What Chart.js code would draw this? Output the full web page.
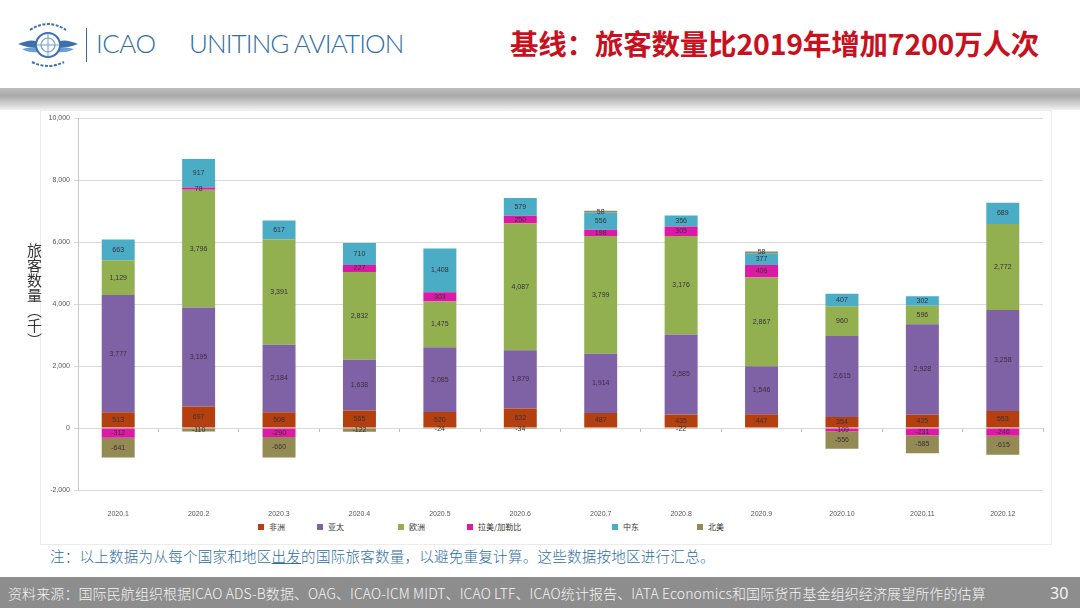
<!DOCTYPE html>
<html>
<head>
<meta charset="utf-8">
<script src="https://cdn.jsdelivr.net/npm/chart.js@4.4.1/dist/chart.umd.min.js"></script>
<style>
  html, body { margin:0; padding:0; background:#fff; }
  body { width:1080px; height:608px; position:relative; overflow:hidden; font-family:"Noto Sans CJK SC","Noto Sans",sans-serif; }
  #hdr { position:absolute; left:0; top:0; width:1080px; height:88px; background:#fff; }
  #band { position:absolute; left:0; top:88px; width:1080px; height:22px; background:linear-gradient(to bottom,#bdbdbd 0%,#a9a9a9 35%,#d9d9d9 80%,#f2f2f2 100%); }
  #icao { position:absolute; left:96px; top:27px; font-family:Lato,"Open Sans",sans-serif; font-weight:300; font-size:26px; color:#2f6ea8; letter-spacing:-0.5px; }
  #sep { position:absolute; left:86px; top:28px; width:1px; height:34px; background:#2f6ea8; }
  #unit { position:absolute; left:189px; top:27px; font-family:Lato,"Open Sans",sans-serif; font-weight:300; font-size:26px; color:#2f6ea8; letter-spacing:-0.9px; }
  #title { position:absolute; left:510px; top:22px; font-family:"Noto Sans CJK SC",sans-serif; font-weight:700; font-size:28.5px; color:#c8101e; letter-spacing:-0.2px; white-space:nowrap; }
  #frame { position:absolute; left:40px; top:110px; width:1012px; height:435px; border:1px solid #ececec; box-sizing:border-box; }
  #chartwrap { position:absolute; left:0; top:110px; width:1080px; height:410px; }
  #ytitle { position:absolute; left:24px; top:243px; writing-mode:vertical-rl; font-family:"Noto Sans CJK SC",sans-serif; font-size:15px; color:#333; letter-spacing:0px; }
  .lg { position:absolute; top:522px; font-family:"Noto Sans CJK SC",sans-serif; font-size:8px; color:#333; white-space:nowrap; line-height:10px; }
  .lg i { display:inline-block; width:6px; height:6px; margin-right:5px; vertical-align:0px; }
  #note { position:absolute; left:50px; top:545px; font-family:"Noto Sans CJK SC",sans-serif; font-size:14.5px; color:#2e6da4; white-space:nowrap; font-weight:300; letter-spacing:0.27px; }
  #note u { text-decoration:underline; }
  #foot { position:absolute; left:0; top:577px; width:1080px; height:31px; background:#8d8d8d; }
  #src { position:absolute; left:8px; top:583px; font-family:"Noto Sans CJK SC",sans-serif; font-size:14px; color:#f4f4f4; white-space:nowrap; font-weight:300; letter-spacing:0.1px; }
  #pg { position:absolute; left:1050px; top:582px; font-family:"Noto Sans",sans-serif; font-size:16px; color:#f4f4f4; }
</style>
</head>
<body>
<div id="hdr">
  <svg style="position:absolute;left:16px;top:18px" width="64" height="52" viewBox="0 0 64 52">
    <path d="M2 26 Q16 20 22 24 L22 30 Q12 30 2 26Z" fill="#3b6fb0"/>
    <path d="M62 26 Q48 20 42 24 L42 30 Q52 30 62 26Z" fill="#3b6fb0"/>
    <path d="M6 31 Q16 28 22 31 L22 34 Q13 35 6 31Z" fill="#6d9fd3"/>
    <path d="M58 31 Q48 28 42 31 L42 34 Q51 35 58 31Z" fill="#6d9fd3"/>
    <circle cx="32" cy="27" r="12" fill="#fff" stroke="#3b6fb0" stroke-width="2"/>
    <circle cx="32" cy="27" r="7" fill="none" stroke="#6d9fd3" stroke-width="1.2"/>
    <line x1="32" y1="15" x2="32" y2="39" stroke="#6d9fd3" stroke-width="1"/>
    <line x1="20" y1="27" x2="44" y2="27" stroke="#6d9fd3" stroke-width="1"/>
    <path d="M14 12 Q32 0 50 12" fill="none" stroke="#3b6fb0" stroke-width="2" stroke-dasharray="3 1.5"/>
    <path d="M16 44 Q32 52 48 44" fill="none" stroke="#3b6fb0" stroke-width="2" stroke-dasharray="3 1.5"/>
  </svg>
  <div id="sep"></div>
  <div id="icao">ICAO</div>
  <div id="unit">UNITING AVIATION</div>
  <div id="title">基线：旅客数量比2019年增加7200万人次</div>
</div>
<div id="band"></div>
<div id="frame"></div>
<div id="chartwrap"><canvas id="c" width="1080" height="410"></canvas></div>
<div id="ytitle">旅客数量（千）</div>
<div class="lg" style="left:258px"><i style="background:#b4400f"></i>非洲</div>
<div class="lg" style="left:317px"><i style="background:#7f62a6"></i>亚太</div>
<div class="lg" style="left:398px"><i style="background:#92b050"></i>欧洲</div>
<div class="lg" style="left:467px"><i style="background:#dd1aa6"></i>拉美/加勒比</div>
<div class="lg" style="left:612px"><i style="background:#4bacc6"></i>中东</div>
<div class="lg" style="left:697px"><i style="background:#948a54"></i>北美</div>
<div id="note">注：以上数据为从每个国家和地区<u>出发</u>的国际旅客数量，以避免重复计算。这些数据按地区进行汇总。</div>
<div id="foot"></div>
<div id="src">资料来源：国际民航组织根据ICAO ADS-B数据、OAG、ICAO-ICM MIDT、ICAO LTF、ICAO统计报告、IATA Economics和国际货币基金组织经济展望所作的估算</div>
<div id="pg">30</div>
<script>
const months = ["2020.1","2020.2","2020.3","2020.4","2020.5","2020.6","2020.7","2020.8","2020.9","2020.10","2020.11","2020.12"];
const africa = [513, 697, 508, 565, 520, 632, 487, 435, 447, 354, 425, 553];
const asiaPacific = [3777, 3195, 2184, 1638, 2085, 1879, 1914, 2585, 1546, 2615, 2928, 3258];
const europe = [1129, 3796, 3391, 2832, 1475, 4087, 3799, 3176, 2867, 960, 596, 2772];
const latinAmerica = [-312, 78, -290, 227, 303, 250, 198, 305, 406, -109, -231, -246];
const middleEast = [663, 917, 617, 710, 1408, 579, 556, 356, 377, 407, 302, 689];
const northAmerica = [-641, -110, -660, -122, -24, -34, 58, -22, 58, -556, -585, -615];
const yTicks = [-2000, 0, 2000, 4000, 6000, 8000, 10000];

const seriesNames = ["非洲","亚太","欧洲","拉美/加勒比","中东","北美"];
const seriesData = [africa, asiaPacific, europe, latinAmerica, middleEast, northAmerica];
const seriesColors = ["#b4400f","#7f62a6","#92b050","#dd1aa6","#4bacc6","#948a54"];

const segLabels = {
  id: 'segLabels',
  afterDatasetsDraw(chart) {
    const ctx = chart.ctx;
    ctx.save();
    ctx.font = '7px "Liberation Sans", Arial, sans-serif';
    ctx.fillStyle = '#3a2f3a';
    ctx.textAlign = 'center';
    ctx.textBaseline = 'middle';
    chart.data.datasets.forEach((ds, i) => {
      const meta = chart.getDatasetMeta(i);
      meta.data.forEach((bar, j) => {
        const v = ds.data[j];
        if (v === null || v === undefined) return;
        const p = bar.getProps(['x','y','base'], true);
        ctx.fillText(v.toLocaleString('en-US'), p.x, (p.y + p.base) / 2);
      });
    });
    ctx.restore();
  }
};

new Chart(document.getElementById('c'), {
  type: 'bar',
  data: {
    labels: months,
    datasets: seriesNames.map((n, i) => ({
      label: n,
      data: seriesData[i],
      backgroundColor: seriesColors[i],
      borderWidth: 0,
      barPercentage: 0.41,
      categoryPercentage: 1.0,
      stack: 's'
    }))
  },
  options: {
    responsive: false,
    animation: false,
    devicePixelRatio: 1,
    layout: { padding: { left: 0, right: 37, top: 8, bottom: 0 } },
    plugins: { legend: { display: false }, tooltip: { enabled: false } },
    scales: {
      x: {
        stacked: true,
        grid: { display: false },
        border: { display: false },
        ticks: { padding: 12, color: '#555', font: { size: 7, family: '"Liberation Sans", Arial, sans-serif' }, maxRotation: 0, autoSkip: false },
        afterFit(s) { s.height = 30; }
      },
      x0: {
        type: 'category',
        axis: 'x',
        labels: months,
        position: { y: 0 },
        offset: true,
        grid: { drawOnChartArea: false, drawTicks: true, tickLength: 4, offset: true, color: '#bdbdbd' },
        border: { display: false },
        ticks: { display: false }
      },
      y: {
        stacked: true,
        min: -2000,
        max: 10000,
        afterBuildTicks(s) { s.ticks = yTicks.map(v => ({ value: v })); },
        grid: { color: '#d9d9d9', lineWidth: 1, drawTicks: true, tickLength: 4 },
        border: { display: true, color: '#c8c8c8' },
        ticks: { padding: 4, color: '#555', font: { size: 7, family: '"Liberation Sans", Arial, sans-serif' }, callback: v => Number(v).toLocaleString('en-US') },
        afterFit(s) { s.width = 78; }
      }
    }
  },
  plugins: [segLabels]
});
</script>
</body>
</html>
